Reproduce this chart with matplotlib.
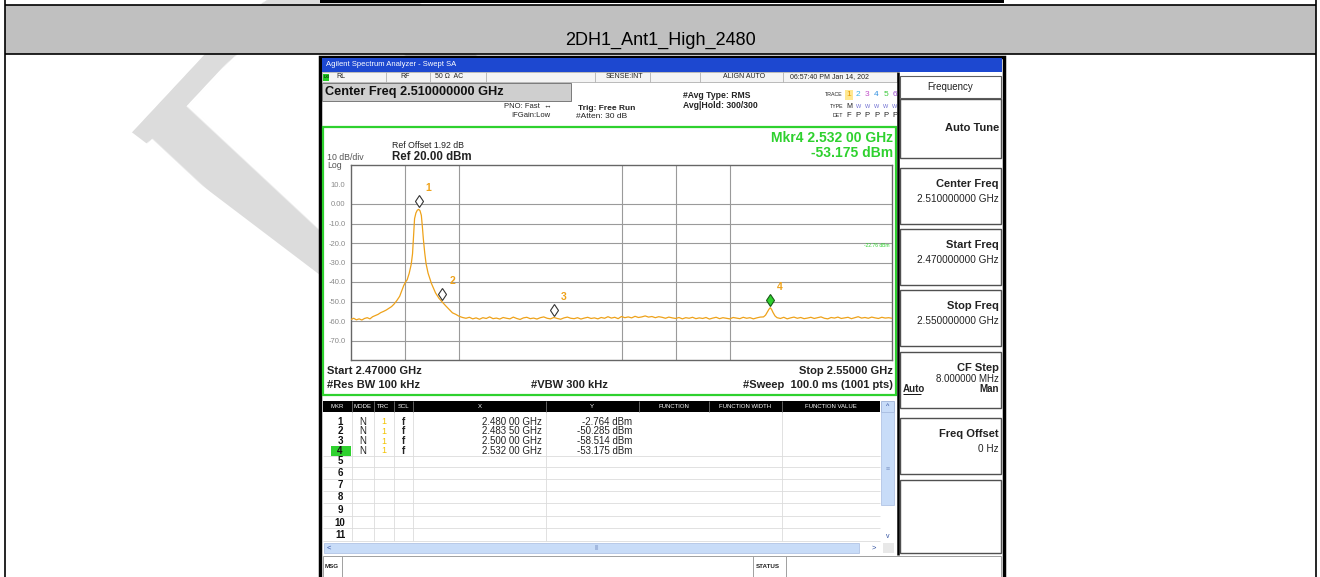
import matplotlib
matplotlib.use("Agg")
from matplotlib import pyplot as plt
from matplotlib.patches import Rectangle, Polygon
from matplotlib.transforms import offset_copy

plt.rcParams['font.family'] = ['Liberation Sans', 'DejaVu Sans']

W, H = 1320, 577
title = "2DH1_Ant1_High_2480"

# trace, MHz / dBm
peak_mhz = [2470.0, 2470.4, 2470.8, 2471.2, 2471.6, 2472.0, 2472.4, 2472.8, 2473.2, 2473.6,
            2474.0, 2474.4, 2474.8, 2475.2, 2475.6, 2476.0, 2476.4, 2476.8, 2477.2, 2477.5,
            2477.8, 2478.1, 2478.3, 2478.6, 2478.9, 2479.1, 2479.25, 2479.4, 2479.6, 2479.8,
            2480.0, 2480.2, 2480.4, 2480.55, 2480.7, 2480.9, 2481.1, 2481.4, 2481.9, 2482.5,
            2483.0, 2483.5, 2484.0, 2484.5, 2485.0, 2485.5, 2486.0, 2486.5]
peak_dbm = [-59.2, -58.6, -59.4, -58.9, -59.5, -58.7, -58.3, -58.9, -57.8, -57.2,
            -56.6, -55.7, -55.1, -54.4, -53.5, -52.6, -51.2, -49.4, -47.3, -44.5,
            -41.8, -39.8, -38.9, -35.6, -31.0, -25.5, -16.0, -7.5, -4.6, -3.2,
            -2.76, -3.4, -5.8, -11.5, -18.0, -25.0, -30.6, -35.5, -40.8, -45.6,
            -48.3, -50.3, -52.2, -54.0, -55.8, -56.6, -57.6, -58.2]
floor_mhz = [2487.0, 2487.5, 2488.0, 2488.5, 2489.0, 2489.5, 2490.0, 2490.5, 2491.0, 2491.5,
             2492.0, 2492.5, 2493.0, 2493.5, 2494.0, 2494.5, 2495.0, 2495.5, 2496.0, 2496.5,
             2497.0, 2497.5, 2498.0, 2498.5, 2499.0, 2499.5, 2500.0, 2500.5, 2501.0, 2501.5,
             2502.0, 2502.5, 2503.0, 2503.5, 2504.0, 2504.5, 2505.0, 2505.5, 2506.0, 2506.5,
             2507.0, 2507.5, 2508.0, 2508.5, 2509.0, 2509.5, 2510.0, 2510.5, 2511.0, 2511.5,
             2512.0, 2512.5, 2513.0, 2513.5, 2514.0, 2514.5, 2515.0, 2515.5, 2516.0, 2516.5,
             2517.0, 2517.5, 2518.0, 2518.5, 2519.0, 2519.5, 2520.0, 2520.5, 2521.0, 2521.5,
             2522.0, 2522.5, 2523.0, 2523.5, 2524.0, 2524.5, 2525.0, 2525.5, 2526.0, 2526.5,
             2527.0, 2527.5, 2528.0, 2528.5, 2529.0, 2529.5, 2530.0, 2530.5, 2531.0]
floor_dbm = [-58.6, -58.1, -58.9, -58.4, -59.1, -58.3, -58.7, -57.9, -58.8, -58.5,
             -59.0, -58.2, -58.6, -58.9, -58.0, -58.7, -59.2, -58.4, -58.1, -58.8,
             -58.5, -59.0, -58.3, -57.9, -58.6, -58.9, -58.2, -58.7, -59.1, -58.4,
             -58.0, -58.6, -58.8, -58.3, -59.0, -58.5, -58.1, -58.7, -58.4, -58.9,
             -58.2, -58.6, -57.8, -58.5, -58.1, -58.8, -57.7, -58.3, -57.9, -58.4,
             -57.6, -58.2, -57.9, -57.4, -58.0, -57.7, -58.3, -57.8, -58.1, -58.6,
             -58.0, -58.4, -58.7, -58.2, -58.9, -58.3, -58.6, -58.1, -58.8, -58.4,
             -58.7, -58.2, -59.0, -58.5, -58.1, -58.8, -58.3, -58.6, -58.9, -58.2,
             -58.5, -58.8, -58.1, -58.6, -58.3, -58.9, -58.4, -58.0, -57.9]
spur_mhz = [2531.3, 2531.6, 2531.8, 2532.0, 2532.2, 2532.4, 2532.7]
spur_dbm = [-57.0, -55.2, -54.0, -53.18, -54.1, -55.6, -57.4]
tail_mhz = [2533.0, 2533.5, 2534.0, 2534.5, 2535.0, 2535.5, 2536.0, 2536.5, 2537.0, 2537.5,
            2538.0, 2538.5, 2539.0, 2539.5, 2540.0, 2540.5, 2541.0, 2541.5, 2542.0, 2542.5,
            2543.0, 2543.5, 2544.0, 2544.5, 2545.0, 2545.5, 2546.0, 2546.5, 2547.0, 2547.5,
            2548.0, 2548.5, 2549.0, 2549.5, 2550.0]
tail_dbm = [-58.3, -58.7, -58.1, -58.9, -58.4, -58.0, -58.6, -58.2, -58.8, -58.5,
            -58.1, -58.7, -58.3, -57.9, -58.6, -58.9, -58.2, -58.5, -58.0, -58.7,
            -58.4, -58.1, -58.8, -58.3, -57.8, -58.5, -58.2, -58.6, -58.0, -58.4,
            -58.7, -58.1, -58.5, -58.3, -58.6]

mkr_ids = [1, 2, 3, 4]
mkr_ghz = [2.48000, 2.48350, 2.50000, 2.53200]
mkr_dbm = [-2.764, -50.285, -58.514, -53.175]
mkr_mode = ["N", "N", "N", "N"]
mkr_scl = ["f", "f", "f", "f"]

start_ghz, stop_ghz = 2.47, 2.55
ref_dbm, bottom_dbm = 20.0, -80.0
ylevels = [10, 0, -10, -20, -30, -40, -50, -60, -70]
ylabels = ["10.0", "0.00", "-10.0", "-20.0", "-30.0", "-40.0", "-50.0", "-60.0", "-70.0"]
grid_ghz = [2.478, 2.486, 2.510, 2.518, 2.526]   # lines that survive in the scaled screenshot
grid_dbm = [0, -10, -20, -30, -40, -50, -60, -70]

softkeys = [("Center Freq", "2.510000000 GHz"), ("Start Freq", "2.470000000 GHz"),
            ("Stop Freq", "2.550000000 GHz"), ("CF Step", "8.000000 MHz"), ("Freq Offset", "0 Hz")]
softkey_top = [168, 229, 290, 352, 418]

trace_colors = ['#e89a00', '#3cb4e6', '#c050c8', '#2f8fe0', '#3cc83c', '#a050d0']
TRC = '#eea21a'
GRN = '#2ed12e'

fig = plt.figure(figsize=(W / 100, H / 100), dpi=100)
bg = fig.add_axes([0, 0, 1, 1])
bg.set_xlim(0, W)
bg.set_ylim(H, 0)
bg.axis('off')


def box(x0, y0, x1, y1, fc='none', ec='none', lw=1.0, z=3):
    bg.add_patch(Rectangle((x0, y0), x1 - x0, y1 - y0, facecolor=fc, edgecolor=ec,
                           linewidth=lw, zorder=z))


def vline(x, y0, y1, c='#c8c8c8', lw=0.8, z=4):
    bg.plot([x, x], [y0, y1], color=c, lw=lw, zorder=z, solid_capstyle='butt')


def hline(y, x0, x1, c='#c8c8c8', lw=0.8, z=4):
    bg.plot([x0, x1], [y, y], color=c, lw=lw, zorder=z, solid_capstyle='butt')


def txt(x, y, s, size=6, color='#222222', ha='left', weight='normal', z=6, **kw):
    bg.text(x, y, s, fontsize=size, color=color, ha=ha, va='center',
            fontweight=weight, zorder=z, **kw)


# watermark, sits under everything
bg.text(336, 380, "D", fontsize=360, family=['Liberation Serif', 'DejaVu Serif'],
        color='#dcdcdc', rotation=47, rotation_mode='anchor', ha='left', va='baseline', zorder=1)
# the reference letter has no serif sticking out left of the stem: mask it with page white
bg.add_patch(Polygon([(6, 55), (30, 55), (320, 275), (320, H), (6, H)], closed=True,
                     facecolor='white', edgecolor='none', zorder=1.5))

# document table
box(5, 5, 1316, 54, fc='#c0c0c0', z=2)
hline(5, 5, 1316, c='black', lw=1.2, z=3)
hline(54, 5, 1316, c='black', lw=1.2, z=3)
vline(5, 0, H, c='black', lw=1.2, z=3)
vline(1316, 0, H, c='black', lw=1.2, z=3)
txt(660, 40, title, size=13, color='black', ha='center', family=['Liberation Sans Narrow', 'Liberation Sans'])
# tail of the previous screenshot
box(320, 0, 1004, 2.5, fc='black', z=3)

# screenshot frame
box(320, 57, 1004, H + 2, fc='white', ec='black', lw=2.5, z=2)
box(322, 58, 1002, 72, fc='#1d48d0', z=3)
txt(326, 65, "Agilent Spectrum Analyzer - Swept SA", size=5.5, color='white')

# status row
box(322, 72, 897, 82, fc='#f4f4f4', ec='#b0b0b0', lw=0.6, z=3)
for x in [386, 430, 486, 595, 650, 700, 783]:
    vline(x, 72, 82, c='#b0b0b0', lw=0.6)
box(323, 73.5, 329, 80.5, fc='#22cc22', z=4)
txt(324, 77, "LXI", size=3, color='black')
txt(336, 77, "RL", size=5)
txt(400, 77, "RF", size=5)
txt(435, 77, "50 Ω  AC", size=5)
txt(606, 77, "SENSE:INT", size=5)
txt(723, 77, "ALIGN AUTO", size=5)
txt(790, 77, "06:57:40 PM Jan 14, 202", size=5)

# center frequency banner and settings
box(322, 83, 571, 101, fc='#cfcfcf', ec='#7a7a7a', lw=0.7, z=3)
txt(325, 92, "Center Freq 2.510000000 GHz", size=9.2, weight='bold', color='#111111')
txt(552, 106, "PNO: Fast  ↔", size=5.5, ha='right')
txt(550, 115.5, "IFGain:Low", size=5.5, ha='right')
txt(578, 108, "Trig: Free Run", size=6, weight='bold')
txt(576, 117, "#Atten: 30 dB", size=6)
txt(683, 95, "#Avg Type: RMS", size=6.2, weight='bold')
txt(683, 106, "Avg|Hold: 300/300", size=6.2, weight='bold')
txt(843, 95, "TRACE", size=3.8, ha='right')
txt(843, 106, "TYPE", size=3.8, ha='right')
txt(843, 115.5, "DET", size=3.8, ha='right')
box(845, 90, 853, 100, fc='#ffe890', z=4)
for i, c in enumerate(trace_colors):
    x = 849 + i * 9.2
    txt(x, 95, str(i + 1), size=6, color=c, ha='center')
    txt(x, 115.5, "F" if i == 0 else "P", size=5.5, ha='center')
    txt(x, 106, "M" if i == 0 else "W", size=5 if i == 0 else 4, ha='center',
        color='#222222' if i == 0 else '#6a6ad0')

# display area
box(323, 127, 896, 395, fc='white', ec=GRN, lw=1.6, z=3)
txt(392, 145, "Ref Offset 1.92 dB", size=6.3)
txt(327, 157, "10 dB/div", size=6.3, color='#555555')
txt(327, 165.5, "Log", size=6.3, color='#555555')
txt(392, 157, "Ref 20.00 dBm", size=8.3, weight='bold')
txt(893, 138, "Mkr%d %.3f %s GHz" % (mkr_ids[3], mkr_ghz[3], ("%.5f" % mkr_ghz[3])[5:]),
    size=10, weight='bold', color=GRN, ha='right')
txt(893, 153, "%.3f dBm" % mkr_dbm[3], size=10, weight='bold', color=GRN, ha='right')
txt(327, 371, "Start %.5f GHz" % start_ghz, size=8, weight='bold')
txt(327, 385, "#Res BW 100 kHz", size=8, weight='bold')
txt(531, 385, "#VBW 300 kHz", size=8, weight='bold')
txt(893, 371, "Stop %.5f GHz" % stop_ghz, size=8, weight='bold', ha='right')
txt(893, 385, "#Sweep  100.0 ms (1001 pts)", size=8, weight='bold', ha='right')

# marker table
box(323, 401, 880, 412, fc='black', z=4)
for x in [352, 373.5, 394, 413, 546, 639, 708.6, 781.6]:
    vline(x, 401, 412, c='#707070', lw=0.6, z=5)
for s, x in [("MKR", 337), ("MODE", 363), ("TRC", 383.5), ("SCL", 403.5), ("X", 480),
             ("Y", 592), ("FUNCTION", 674), ("FUNCTION WIDTH", 745), ("FUNCTION VALUE", 831)]:
    txt(x, 406.5, s, size=4.3, color='white', ha='center')
row_y = [422, 431.5, 441, 450.5, 461, 473, 485, 497.5, 510, 522.5, 535]
for x in [352, 373.5, 394, 413, 546, 782]:
    vline(x, 412, 541, c='#dcdcdc', lw=0.6)
for y in row_y[3:]:
    hline(y + 5.5, 323, 880, c='#dcdcdc', lw=0.6)
box(331, row_y[3] - 5, 351, row_y[3] + 5, fc=GRN, z=4)
for i, y in enumerate(row_y):
    txt(340, y, str(i + 1), size=7, weight='bold', ha='center', color='#111111')
for i in range(len(mkr_ids)):
    y = row_y[i]
    fs = "%.5f" % mkr_ghz[i]
    txt(363, y, mkr_mode[i], size=7, ha='center')
    txt(384, y, "1", size=6.5, ha='center', color='#f2c200')
    txt(403, y, mkr_scl[i], size=7, ha='center', weight='bold')
    txt(542, y, fs[:5] + " " + fs[5:] + " GHz", size=7, ha='right')
    txt(632, y, "%.3f dBm" % mkr_dbm[i], size=7, ha='right')
# scrollbars
box(881, 401, 894, 412, fc='#c8dcf8', ec='#90a8d0', lw=0.5, z=4)
txt(887.5, 406.5, "^", size=5, ha='center', color='#3050a0')
box(881, 412, 894, 505, fc='#c8dcf8', ec='#a8bce0', lw=0.5, z=4)
txt(887.5, 470, "≡", size=5, ha='center', color='#8098c8')
txt(887.5, 536, "v", size=5, ha='center', color='#3050a0')
box(324, 543, 859, 553, fc='#c8dcf8', ec='#a8bce0', lw=0.5, z=4)
txt(327, 548, "<", size=5.5, color='#3050a0')
txt(597, 548, "|||", size=4, ha='center', color='#8098c8')
txt(874, 548, ">", size=5.5, ha='center', color='#3050a0')
box(883, 543, 894, 553, fc='#e8e8e8', z=4)

# softkey panel
vline(897.5, 72, 555, c='black', lw=1.8, z=5)
box(900, 76, 1001, 98, fc='white', ec='#606060', lw=0.8, z=4)
txt(950, 87, "Frequency", size=7, ha='center')
box(900, 99, 1001, 158, fc='white', ec='#505050', lw=1.0, z=4)
txt(999, 128, "Auto Tune", size=8, weight='bold', ha='right')
for (name, val), top in zip(softkeys, softkey_top):
    box(900, top, 1001, top + 56, fc='white', ec='#505050', lw=1.0, z=4)
    txt(999, top + 16, name, size=8, weight='bold', ha='right')
    if name == "CF Step":
        txt(999, top + 27, val, size=7, ha='right')
        txt(903, top + 37, "Auto", size=7, weight='bold')
        hline(top + 41.5, 903, 921, c='#111111', lw=0.7, z=6)
        txt(999, top + 37, "Man", size=7, weight='bold', ha='right')
    else:
        txt(999, top + 31, val, size=7.2, ha='right')
box(900, 480, 1001, 553, fc='white', ec='#505050', lw=1.0, z=4)

# message bar
box(323, 556, 1001, 577, fc='white', ec='#a0a0a0', lw=0.7, z=4)
for x in [342, 753, 786]:
    vline(x, 556, 577, c='#a0a0a0', lw=0.7, z=5)
txt(325, 567, "MSG", size=4.5, weight='bold')
txt(756, 567, "STATUS", size=4.5, weight='bold')

# spectrum graticule
ax = fig.add_axes([351 / W, 1 - 360 / H, 541 / W, 195 / H])
ax.set_xlim(start_ghz, stop_ghz)
ax.set_ylim(bottom_dbm, ref_dbm)
ax.set_facecolor('white')
for sp in ax.spines.values():
    sp.set_color('#666666')
    sp.set_linewidth(1.0)
ax.set_xticks([])
ax.set_yticks(ylevels, ylabels)
ax.tick_params(axis='y', length=0, pad=4, labelsize=5.5, labelcolor='#8a8a8a')
for g in grid_ghz:
    ax.axvline(g, color='#9a9a9a', lw=0.8, zorder=1)
for g in grid_dbm:
    ax.axhline(g, color='#9a9a9a', lw=0.8, zorder=1)

trace_mhz = peak_mhz + floor_mhz + spur_mhz + tail_mhz
trace_dbm = peak_dbm + floor_dbm + spur_dbm + tail_dbm
ax.plot([f / 1000 for f in trace_mhz], trace_dbm, color=TRC, lw=0.9, zorder=3)

above = offset_copy(ax.transData, fig=fig, x=0, y=8, units='dots')
for i in range(len(mkr_ids)):
    last = i == len(mkr_ids) - 1
    ax.plot(mkr_ghz[i], mkr_dbm[i], marker='d', ms=6.6, transform=above,
            mfc=GRN if last else 'white', mec='#1a5a1a' if last else '#333333',
            mew=0.8, zorder=5, clip_on=False)
    ax.annotate(str(mkr_ids[i]), (mkr_ghz[i], mkr_dbm[i]), xytext=(5, 13),
                textcoords='offset points', fontsize=7.5, fontweight='bold', color=TRC,
                annotation_clip=False, zorder=6)
ax.text(stop_ghz - 0.0004, -22.76, "-22.76 dBm", fontsize=3.5, color=GRN, ha='right', va='bottom')

fig.savefig("out.png", dpi=100)
